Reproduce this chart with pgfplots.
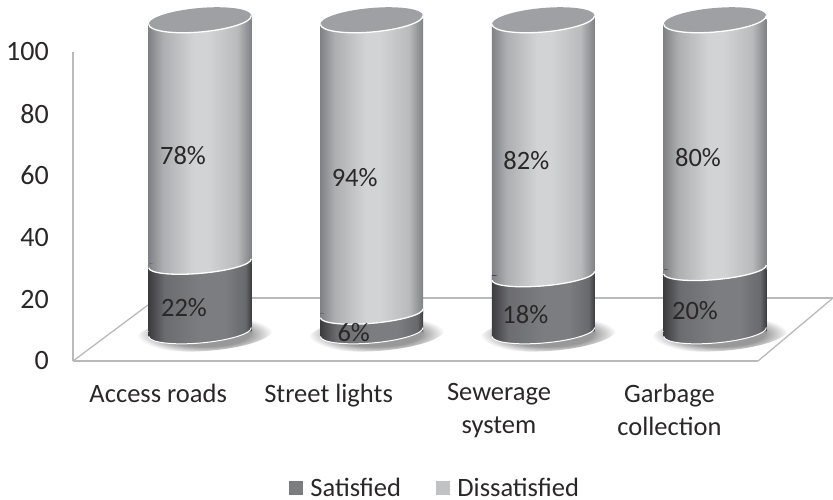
\documentclass[border=0pt]{standalone}
\usepackage{pgfplots}
\pgfplotsset{compat=1.18}
\usepackage{fontspec}
\setmainfont{Carlito}
\definecolor{txt}{HTML}{2A2728}
\definecolor{frame}{HTML}{B9BABC}
\definecolor{dk0}{HTML}{3C3C3F}
\definecolor{dk1}{HTML}{7C7D81}
\definecolor{lt0}{HTML}{808184}
\definecolor{lt1}{HTML}{D2D3D5}
\definecolor{topc}{HTML}{9FA0A3}
\pgfdeclarehorizontalshading{cyldark}{100bp}{
 color(0bp)=(dk0); color(25bp)=(dk0); color(33bp)=(dk1!75!dk0); color(50bp)=(dk1);
 color(62bp)=(dk1); color(72bp)=(dk1!70!dk0); color(75bp)=(dk0); color(100bp)=(dk0)}
\pgfdeclarehorizontalshading{cyllight}{100bp}{
 color(0bp)=(lt0); color(25bp)=(lt0); color(32bp)=(lt1!55!lt0); color(47bp)=(lt1);
 color(54bp)=(lt1); color(68bp)=(lt1!70!lt0); color(75bp)=(lt0); color(100bp)=(lt0)}
\pgfdeclareradialshading{blob}{\pgfpoint{0bp}{0bp}}{
 color(0bp)=(black!42); color(16bp)=(black!40); color(25bp)=(white); color(50bp)=(white)}
\newcommand{\lab}{\fontsize{26.5}{33}\selectfont}
\newcommand{\yl}{\fontsize{28}{33}\selectfont}
% body shading across the full cylinder, clipped to the current clip
\newcommand{\body}[1]{\shade[shading=#1] (-51.5pt,-25pt) rectangle (51.5pt,25pt);}
% elliptic slice of a cylinder at coordinate #1
\newcommand{\slice}[4]{% #1 centre, #2 y radius, #3 shading, #4 line width
 \begin{scope}[shift={(#1)}]
  \begin{scope}
   \clip[rotate=5] (0pt,0pt) ellipse [x radius=51.5pt, y radius=#2];
   \body{#3}
  \end{scope}
  \draw[white, line width=#4, rotate=5] (-51.5pt,0pt) arc[start angle=180,end angle=360,x radius=51.5pt,y radius=#2];
 \end{scope}}
% wedges between the level seam of the bars and the tilted ellipse
\newcommand{\wedgeR}[2]{\begin{scope}[shift={(#1)}]\clip (0pt,0pt)--(51.5pt,0pt)--(51.5pt,4.6pt)--cycle; \body{#2}\end{scope}}
\newcommand{\wedgeL}[2]{\begin{scope}[shift={(#1)}]\clip (0pt,0pt)--(-51.5pt,0pt)--(-51.5pt,-4.6pt)--cycle; \body{#2}\end{scope}}
\begin{document}
\begin{tikzpicture}
\path[use as bounding box] (0pt,0pt) rectangle (833pt,500pt);
% frame axis
\begin{axis}[
 at={(73pt,139pt)}, anchor=south west, scale only axis,
 width=685pt, height=309pt,
 xmin=-0.5, xmax=3.52, ymin=0, ymax=100,
 axis x line*=bottom, axis y line*=left,
 axis line style={frame, line width=1.3pt, -},
 major tick length=0pt,
 xtick={0,1,2,3},
 xticklabels={Access roads,Street lights,{Sewerage\\system},{Garbage\\collection}},
 ytick={0,20,40,60,80,100},
 /pgf/number format/assume math mode=true,
 x tick label style={font=\lab, text=txt, align=center, anchor=north, yshift=-22.5pt, inner sep=0pt},
 y tick label style={font=\yl, text=txt, anchor=east, xshift=-24pt, inner sep=0pt},
 clip=false,
 legend columns=2,
 legend style={at={(0.527,-0.41)}, anchor=center, draw=none, fill=none,
   font=\lab, text=txt, nodes={inner sep=0pt},
   /tikz/column 1/.style={column sep=8pt},
   /tikz/column 2/.style={column sep=35pt},
   /tikz/column 3/.style={column sep=8pt}},
]
\addlegendimage{legend image code/.code={\fill[dk1] (0pt,-7pt) rectangle (13pt,6pt);}}
\addlegendentry{Satisfied}
\addlegendimage{legend image code/.code={\fill[lt1!92!black] (0pt,-7pt) rectangle (13pt,6pt);}}
\addlegendentry{Dissatisfied}
\end{axis}
% floor
\draw[frame, line width=1.3pt] (73pt,139pt) -- (148pt,195pt);
\draw[frame, line width=1.3pt] (758pt,139pt) -- (833pt,202pt);
\draw[frame, line width=1.3pt] (148pt,202pt) -- (833pt,202pt);
% cylinders: one axis each; the four bars share the same scale
\foreach \c/\a/\b/\ya/\yb/\da in {200/22/78/7.7/56.7/-16,371.7/6/94/-0.3/49.4/-18,543.3/18/82/5.5/55/-18,715/20/80/6.8/56/-20}{
 \shade[shading=blob, rotate around={4:(\c pt+5pt,166pt)}] (\c pt+5pt,166pt) ellipse [x radius=68pt, y radius=17pt];
 \begin{axis}[
  at={(\c pt-85.8pt,168pt)}, anchor=south west, scale only axis,
  width=171.6pt, height=312pt,
  xmin=-0.5, xmax=0.5, ymin=0, ymax=100,
  axis lines=none, clip=false,
  ybar stacked, bar width=103pt,
  after end axis/.code={
   % base
   \coordinate (bot) at (axis cs:0,0);
   \fill[black!40, shift={(bot)}] (52pt,0.5pt)--(38pt,0.5pt)--(52pt,-2pt)--cycle;
   \fill[black!40, shift={(bot)}] (52pt,0.5pt)--(44pt,-2pt)--(52pt,-2pt)--cycle;
   \wedgeL{bot}{cyldark}
   \slice{bot}{11pt}{cyldark}{1pt}
   % seam
   \coordinate (mid) at (axis cs:0,\a);
   \wedgeR{mid}{cyldark}
   \wedgeL{mid}{cyllight}
   \slice{mid}{10pt}{cyllight}{1.3pt}
   % top
   \coordinate (top) at (axis cs:0,100);
   \fill[white, shift={(top)}] (-52.5pt,1pt)--(-30pt,1pt)--(-52.5pt,-5pt)--cycle;
   \wedgeR{top}{cyllight}
   \fill[topc, shift={(top)}, rotate=5] (0pt,0pt) ellipse [x radius=51.5pt, y radius=12pt];
   \draw[white, line width=1.3pt, shift={(top)}, rotate=5] (-51.5pt,0pt) arc[start angle=180,end angle=360,x radius=51.5pt,y radius=12pt];
   \node[font=\lab, text=txt, inner sep=0pt] at ([xshift=\da pt]axis cs:0,\ya) {\a\%};
   \node[font=\lab, text=txt, inner sep=0pt] at ([xshift=-17pt]axis cs:0,\yb) {\b\%};
  },
 ]
 \addplot[draw=none, shading=cyldark] coordinates {(0,\a)};
 \addplot[draw=none, shading=cyllight] coordinates {(0,\b)};
 \end{axis}
}
\end{tikzpicture}
\end{document}
